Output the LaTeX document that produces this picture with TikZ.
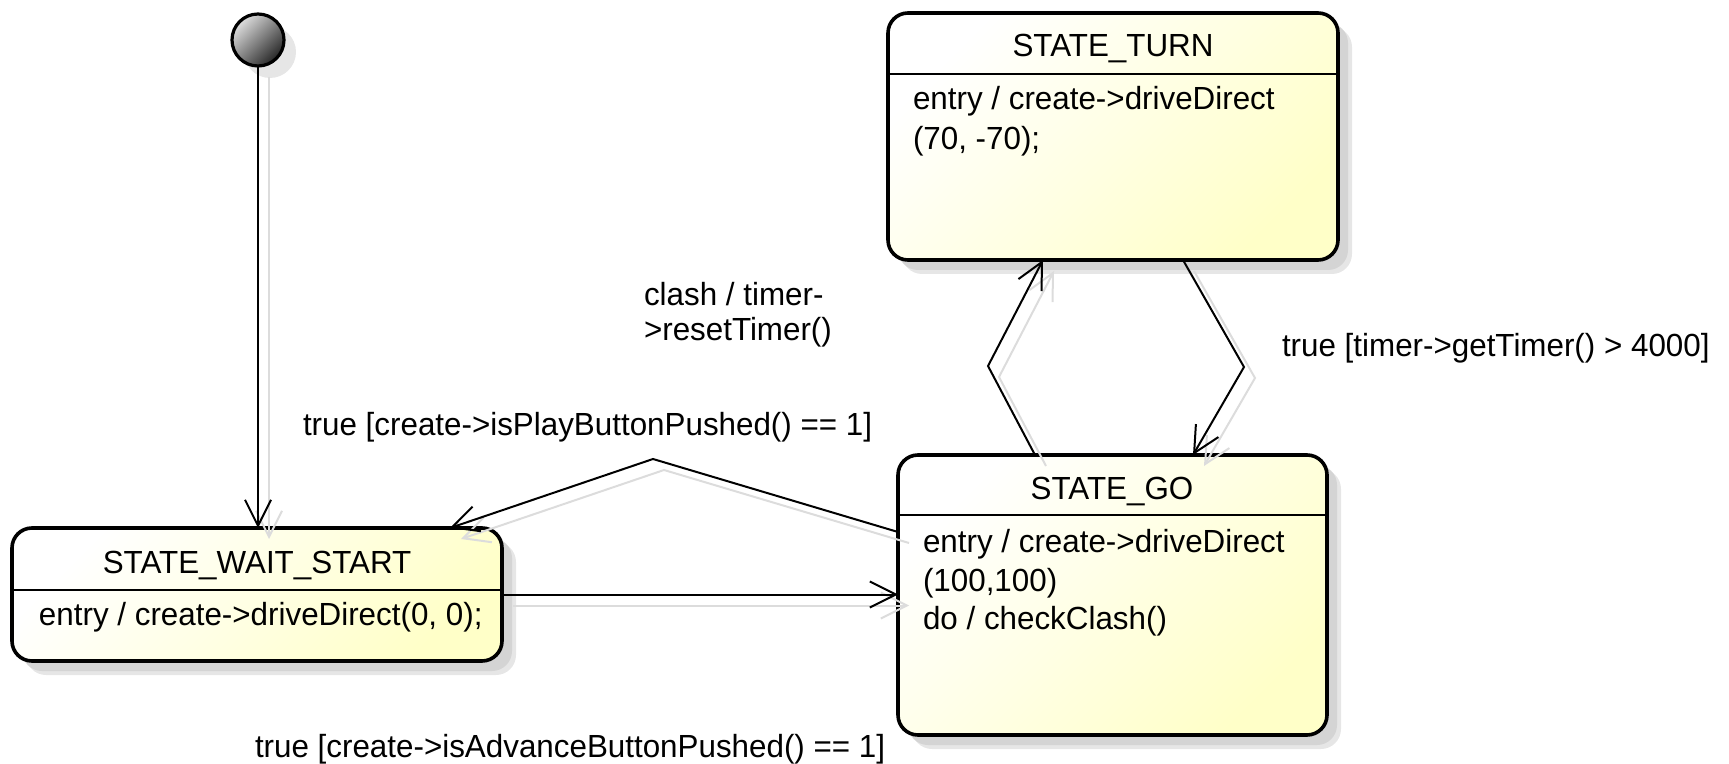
\documentclass[tikz,border=0pt]{standalone}
\usepackage{fontspec}
\setmainfont[FakeStretch=0.98]{Liberation Sans}
\usetikzlibrary{arrows.meta,calc,shadows}
\definecolor{pyel}{RGB}{255,255,200}
\definecolor{shdA}{RGB}{230,230,230}
\definecolor{shdB}{RGB}{212,212,212}
\definecolor{lnshd}{RGB}{220,220,220}
\begin{document}
\begin{tikzpicture}[x=0.5pt,y=-0.5pt,
  every node/.style={inner sep=0pt,outer sep=0pt,font=\fontsize{16pt}{19pt}\selectfont},
  statebox/.style={rectangle,draw=black,line width=1.8pt,rounded corners=10pt,
    top color=white,bottom color=pyel,shading angle=45,
    drop shadow={shadow xshift=7pt,shadow yshift=-7pt,fill=shdA,opacity=1},
    drop shadow={shadow xshift=5pt,shadow yshift=-5pt,fill=shdB,opacity=1}},
  sepline/.style={line width=1pt},
  conn/.style={line width=1pt,-{Straight Barb[length=13pt,width=13pt,line width=1pt]}},
  connshadow/.style={conn,draw=lnshd,transform canvas={shift={(5.5pt,-5.5pt)}}},
  lbl/.style={anchor=base west},
  ttl/.style={anchor=base}
]
\useasboundingbox (0,0) rectangle (1729,764);

% states
\node[statebox,minimum width=245pt,minimum height=66.5pt] (wait) at (257,594.5) {};
\node[statebox,minimum width=214.5pt,minimum height=140pt] (go) at (1112.5,595) {};
\node[statebox,minimum width=225pt,minimum height=123.5pt] (turn) at (1113,136.5) {};
\node[circle,draw=black,line width=1.6pt,minimum size=26pt,
  top color=gray!25,bottom color=black!85,shading angle=45,
  drop shadow={shadow xshift=6pt,shadow yshift=-6pt,fill=shdA,opacity=1}] (init) at (258,40) {};

% compartments
\coordinate (wsep) at (0,590);
\coordinate (gsep) at (0,515);
\coordinate (tsep) at (0,74);
\draw[sepline] (wait.west |- wsep) -- (wait.east |- wsep);
\draw[sepline] (go.west |- gsep) -- (go.east |- gsep);
\draw[sepline] (turn.west |- tsep) -- (turn.east |- tsep);

% bend points
\coordinate (b1) at (653,459);
\coordinate (b2) at (988,366);
\coordinate (b3) at (1244,367);
\coordinate (gl) at (0,532);
\coordinate (wt) at ($(wait.north west)+(438,0)$);
\coordinate (gtA) at ($(go.north west)+(137,0)$);
\coordinate (gtB) at ($(go.north west)+(295,0)$);
\coordinate (tbA) at ($(turn.south west)+(155,0)$);
\coordinate (tbB) at ($(turn.south west)+(295,0)$);

% connector shadows
\draw[connshadow] (init.south) -- (init.south |- wait.north);
\draw[connshadow] (wait.east) -- (go.west |- wait.east);
\draw[connshadow] (go.west |- gl) -- (b1) -- (wt);
\draw[connshadow] (gtA) -- (b2) -- (tbA);
\draw[connshadow] (tbB) -- (b3) -- (gtB);

% texts in states
\node[ttl] (waitT) at (257,573) {STATE\_WAIT\_START};
\node[lbl] (waitE) at (39,625) {entry / create->driveDirect(0, 0);};
\node[ttl] (goT) at (1112,499) {STATE\_GO};
\node[lbl] (goE1) at (923,552) {entry / create->driveDirect};
\node[lbl] (goE2) at (923,591) {(100,100)};
\node[lbl] (goE3) at (923,629) {do / checkClash()};
\node[ttl] (turnT) at (1113,57) {STATE\_TURN};
\node[lbl] (turnE1) at (913,110) {entry / create->driveDirect};
\node[lbl] (turnE2) at (913,150) {(70, -70);};

% connectors
\draw[conn] (init.south) -- (init.south |- wait.north);
\draw[conn] (wait.east) -- (go.west |- wait.east);
\draw[conn] (go.west |- gl) -- (b1) -- (wt);
\draw[conn] (gtA) -- (b2) -- (tbA);
\draw[conn] (tbB) -- (b3) -- (gtB);

% labels
\node[lbl] (l1a) at (644,306) {clash / timer-};
\node[lbl] (l1b) at (644,341) {>resetTimer()};
\node[lbl] (l2) at (303,436) {true [create->isPlayButtonPushed() == 1]};
\node[lbl] (l3) at (255,757) {true [create->isAdvanceButtonPushed() == 1]};
\node[lbl] (l4) at (1282,357) {true [timer->getTimer() > 4000]};
\end{tikzpicture}
\end{document}
